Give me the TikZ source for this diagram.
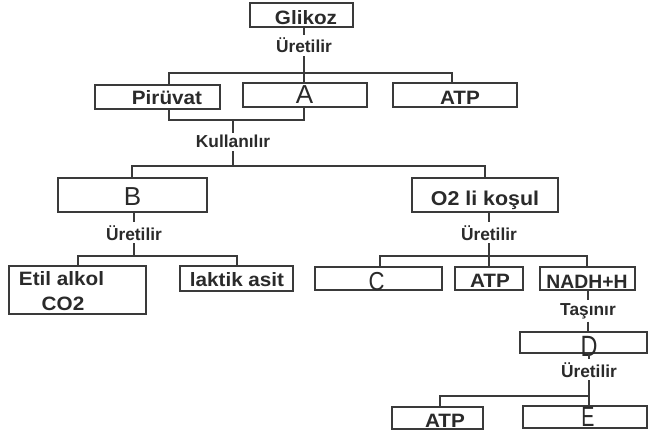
\documentclass[tikz,border=0pt]{standalone}
\usepackage{fontspec}
\usepackage{graphicx}
\setmainfont{Liberation Sans}
\newfontfamily\wideface[FakeStretch=1.07]{Liberation Sans}
\usetikzlibrary{fit}
\definecolor{ink}{HTML}{2A2A2A}
\definecolor{wire}{HTML}{3A3A3A}
\begin{document}
\begin{tikzpicture}[x=0.75pt,y=-0.75pt,
  box/.style={draw=wire, line width=1.5pt, inner sep=0pt, fit={#1}},
  lbl/.style={text=ink, anchor=base, inner sep=0pt, font=\wideface\bfseries\fontsize{14.5}{17}\selectfont},
  big/.style={text=ink, anchor=base, inner sep=0pt, font=\fontsize{#1}{#1}\selectfont},
  sm/.style={text=ink, anchor=base, inner sep=2pt, font=\bfseries\fontsize{13}{15}\selectfont},
  conn/.style={draw=wire, line width=1.1pt}]
\useasboundingbox[fill=white] (0,0) rectangle (649,438);

% boxes
\node[box={(250,3)(353,27)}] (glikoz) {};
\node[box={(95,85)(220,109)}] (piruvat) {};
\node[box={(243,83)(367,107)}] (boxA) {};
\node[box={(393,83)(517,107)}] (atpA) {};
\node[box={(58,178)(207,212)}] (boxB) {};
\node[box={(412,178)(558,212)}] (otwo) {};
\node[box={(9,266)(146,314)}] (etil) {};
\node[box={(180,266)(293,291)}] (laktik) {};
\node[box={(315,267)(442,290)}] (boxC) {};
\node[box={(455,267)(523,290)}] (atpB) {};
\node[box={(540,267)(635,290)}] (nadh) {};
\node[box={(520,332)(647,353)}] (boxD) {};
\node[box={(392,407)(483,429)}] (atpC) {};
\node[box={(523,406)(647,428)}] (boxE) {};

% box texts
\node[lbl] (tGlikoz) at (306,25) {Glikoz};
\node[lbl] (tPir) at (167,105) {Pirüvat};
\node[big=19.5] (tA) at (304.5,104) {A};
\node[lbl] (tAtpA) at (460,105) {ATP};
\node[big=19.5] (tB) at (132.5,206) {B};
\node[lbl, font=\wideface\bfseries\fontsize{15}{18}\selectfont] (tO2) at (485,206) {O2 li koşul};
\node[lbl] (tEtil) at (61.5,285) {Etil alkol};
\node[lbl] (tCO2) at (63,310) {CO2};
\node[lbl] (tLak) at (237,286) {laktik asit};
\node[big=19.5] (tC) at (376.5,290) {\scalebox{0.85}[1]{C}};
\node[lbl] (tAtpB) at (490,287) {ATP};
\node[lbl, font=\bfseries\fontsize{14.5}{17}\selectfont] (tNadh) at (587,288) {NADH+H};
\node[big=22] (tD) at (589,356) {\scalebox{0.8}[1]{D}};
\node[lbl] (tAtpC) at (445,427) {ATP};
\node[big=21] (tE) at (588,426) {\scalebox{0.7}[1]{E}};

% small labels
\node[sm] (u1) at (304,53) {Üretilir};
\node[sm] (kul) at (233,148) {Kullanılır};
\node[sm] (u2) at (134,240) {Üretilir};
\node[sm] (u3) at (489,240) {Üretilir};
\node[sm] (tas) at (588,315) {Taşınır};
\node[sm] (u4) at (589,377) {Üretilir};

% junctions
\coordinate (j1a) at (169,73);  \coordinate (j1b) at (452,73);
\coordinate (j2a) at (169,120); \coordinate (j2b) at (304,120);
\coordinate (j3a) at (132,166); \coordinate (j3b) at (485,166);
\coordinate (j4a) at (78,256);  \coordinate (j4b) at (237,256);
\coordinate (j5a) at (380,256); \coordinate (j5b) at (587,256);
\coordinate (j6a) at (440,396); \coordinate (j6b) at (589,396);

% connectors
\draw[conn] (glikoz.south -| u1) -- (u1.north);
\draw[conn] (u1.south) -- (u1 |- j1a);
\draw[conn] (piruvat.north -| j1a) -- (j1a) -- (j1b) -- (atpA.north -| j1b);
\draw[conn] (u1 |- j1a) -- (boxA.north -| u1);
\draw[conn] (piruvat.south -| j2a) -- (j2a) -- (j2b) -- (boxA.south -| j2b);
\draw[conn] (kul |- j2a) -- (kul.north);
\draw[conn] (kul.south) -- (kul |- j3a);
\draw[conn] (boxB.north -| j3a) -- (j3a) -- (j3b) -- (otwo.north -| j3b);
\draw[conn] (boxB.south -| u2) -- (u2.north);
\draw[conn] (u2.south) -- (u2 |- j4a);
\draw[conn] (etil.north -| j4a) -- (j4a) -- (j4b) -- (laktik.north -| j4b);
\draw[conn] (otwo.south -| u3) -- (u3.north);
\draw[conn] (u3.south) -- (u3 |- j5a);
\draw[conn] (boxC.north -| j5a) -- (j5a) -- (j5b) -- (nadh.north -| j5b);
\draw[conn] (u3 |- j5a) -- (atpB.north -| u3);
\draw[conn] (nadh.south -| tas) -- (tas.north);
\draw[conn] (tas.south) -- (boxD.north -| tas);
\draw[conn] (boxD.south -| u4) -- (u4.north);
\draw[conn] (u4.south) -- (u4 |- j6a);
\draw[conn] (atpC.north -| j6a) -- (j6a) -- (j6b) -- (boxE.north -| j6b);
\end{tikzpicture}
\end{document}
